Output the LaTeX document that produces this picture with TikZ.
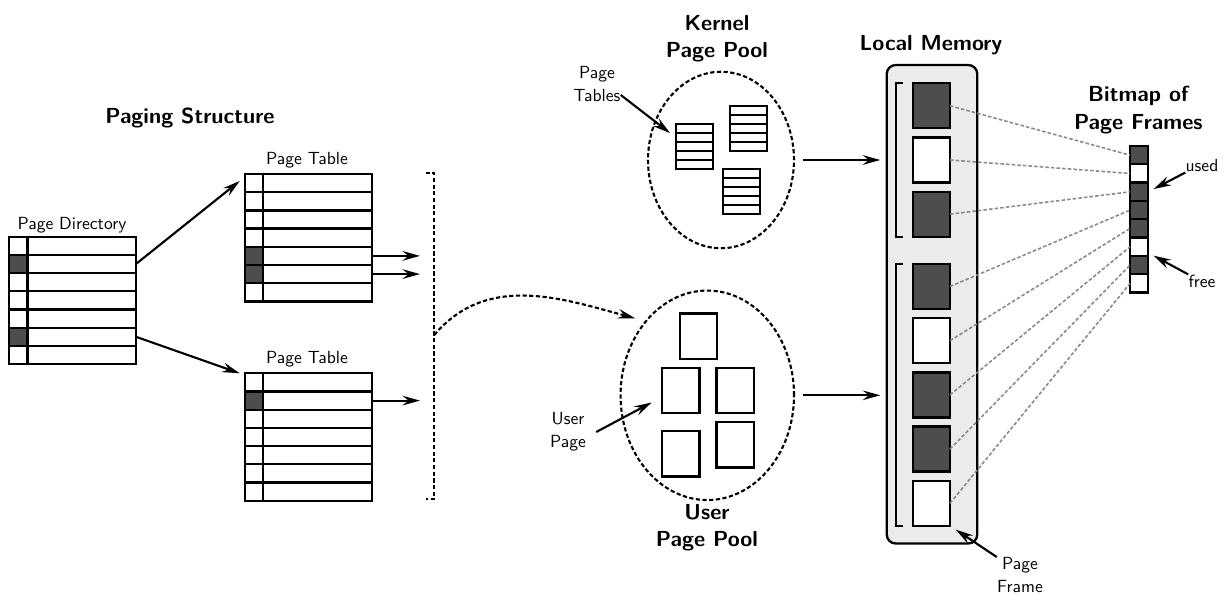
\documentclass[tikz,border=0pt]{standalone}
\usepackage{fontspec}
\usetikzlibrary{arrows.meta,shapes.geometric}

\definecolor{cd}{HTML}{4D4D4D}
\colorlet{cw}{white}
\definecolor{memgray}{HTML}{EBEBEB}
\definecolor{linkgray}{HTML}{8A8A8A}

\begin{document}
\begin{tikzpicture}[x=0.02cm,y=-0.02cm,>={Stealth[length=10pt,width=5.5pt,inset=3.5pt]},
    font=\sffamily,
    box/.style={draw,line width=1.3pt,inner sep=0pt,outer sep=0pt},
    row/.style={box,minimum width=2.54cm,minimum height=0.364cm,anchor=north west},
    bit/.style={box,fill=c#1,minimum width=0.37cm,minimum height=0.364cm,anchor=north west},
    krow/.style={box,line width=1.1pt,minimum width=0.734cm,minimum height=0.181cm,anchor=north west},
    upage/.style={box,minimum width=0.746cm,minimum height=0.912cm},
    frame/.style={box,fill=c#1,minimum width=0.746cm,minimum height=0.9cm},
    bm/.style={box,fill=c#1,minimum size=0.366cm},
    dashline/.style={line width=1.2pt,dash pattern=on 2.4pt off 1.4pt},
    pool/.style={ellipse,draw,dashline,inner sep=0pt},
    title/.style={font=\fontsize{12.4}{15.5}\selectfont\sffamily\bfseries,align=center,inner sep=0pt},
    lbl/.style={font=\fontsize{10}{13}\selectfont\sffamily,align=center,inner sep=0pt},
    arr/.style={->,line width=1.2pt},
    link/.style={draw=linkgray,line width=0.9pt,dash pattern=on 2pt off 1.2pt}]
    \useasboundingbox (0,0) rectangle (1228,594);

    % paging structure
    \node[title] (pslbl) at (190,118) {Paging Structure};
    \node[lbl] (pdlbl) at (72,225) {Page Directory};
    \foreach \c [count=\r from 0] in {w,d,w,w,w,d,w} {
        \node[row] (pd-\r) at (9,{236.7+18.2*\r}) {};
        \node[bit=\c] (pd-\r-b) at (pd-\r.north west) {};
    }
    \node[lbl] (pt1lbl) at (307,160) {Page Table};
    \foreach \c [count=\r from 0] in {w,w,w,w,d,d,w} {
        \node[row] (pt1-\r) at (244.7,{174+18.2*\r}) {};
        \node[bit=\c] (pt1-\r-b) at (pt1-\r.north west) {};
    }
    \node[lbl] (pt2lbl) at (307,359) {Page Table};
    \foreach \c [count=\r from 0] in {w,d,w,w,w,w,w} {
        \node[row] (pt2-\r) at (244.7,{373.3+18.2*\r}) {};
        \node[bit=\c] (pt2-\r-b) at (pt2-\r.north west) {};
    }
    \draw[arr] (pd-1.east) -- ([xshift=-0.1cm,yshift=-0.14cm]pt1-0.north west);
    \draw[arr] (pd-5.east) -- ([xshift=-0.1cm]pt2-0.north west);

    \coordinate (ptout) at (420,336);
    \foreach \r in {4,5}
        \draw[arr] (pt1-\r.east) -- (pt1-\r.east -| ptout);
    \draw[arr] (pt2-1.east) -- (pt2-1.east -| ptout);

    % dashed bracket
    \coordinate (brk-t) at (434.3,173);
    \coordinate (brk-b) at (434.3,499);
    \coordinate (brk) at (434.3,335);
    \draw[dashline] ([xshift=-0.17cm]brk-t) -- (brk-t) -- (brk-b) -- ([xshift=-0.17cm]brk-b);

    % kernel page pool
    \node[title] (kpoollbl) at (717,39) {Kernel\\Page Pool};
    \node[pool,minimum width=2.92cm,minimum height=3.53cm] (kpool) at (721,160) {};
    \foreach \t/\x/\y in {1/676/124,2/730/106,3/723.3/169}
        \foreach \r in {0,...,4}
            \node[krow] (kt\t-\r) at (\x,{\y+9.07*\r}) {};
    \node[lbl] (ptslbl) at (597,84) {Page\\Tables};
    \draw[arr] ([yshift=0.14cm]ptslbl.south east) -- ([xshift=-0.12cm]kt1-1.north west);

    % user page pool
    \node[pool,minimum width=3.47cm,minimum height=4.19cm] (upool) at (707.3,395.3) {};
    \node[title] (upoollbl) at (707,528) {User\\Page Pool};
    \node[upage] (up1) at (698.7,336.2) {};
    \node[upage] (up2) at (680.8,390.5) {};
    \node[upage] (up3) at (735,390.5) {};
    \node[upage] (up4) at (680.8,453.7) {};
    \node[upage] (up5) at (735,444.7) {};
    \node[lbl] (uplbl) at (568,432) {User\\Page};
    \draw[arr] ([xshift=0.2cm]uplbl.east) -- ([xshift=-0.21cm,yshift=-0.24cm]up2.west);

    \draw[arr,dashline,shorten >=0.2cm] (brk) to[out=50,in=165] (upool.130);

    % local memory
    \node[title] (memlbl) at (931,45) {Local Memory};
    \node[box,fill=memgray,rounded corners=5pt,minimum width=1.81cm,minimum height=9.57cm] (mem) at (932,304.25) {};
    \foreach \i/\c/\y in {1/d/105.8,2/w/160,3/d/214.2,4/d/286.5,5/w/340.7,6/d/394.9,7/d/449.1,8/w/503.3}
        \node[frame=\c] (fr\i) at (931.35,\y) {};
    \draw[line width=1.3pt] ([xshift=-0.19cm]fr1.north west) -- ([xshift=-0.334cm]fr1.north west)
        -- ([xshift=-0.334cm]fr3.south west) -- ([xshift=-0.19cm]fr3.south west);
    \draw[line width=1.3pt] ([xshift=-0.19cm]fr4.north west) -- ([xshift=-0.334cm]fr4.north west)
        -- ([xshift=-0.334cm]fr8.south west) -- ([xshift=-0.19cm]fr8.south west);
    \draw[arr,shorten <=0.15cm,shorten >=0.13cm] (kpool.east) -- (kpool.east -| mem.west);
    \draw[arr,shorten <=0.15cm,shorten >=0.13cm] (upool.east) -- (upool.east -| mem.west);

    % bitmap
    \node[title] (bmlbl) at (1138.3,110) {Bitmap of\\Page Frames};
    \foreach \c [count=\i] in {d,w,d,d,d,w,d,w}
        \node[bm=\c] (bm\i) at (1139.15,{146+18.33*(\i-0.5)}) {};
    \foreach \i in {1,...,8}
        \draw[link] (fr\i.east) -- (bm\i.west);

    \node[lbl] (usedlbl) at (1202,166) {used};
    \draw[arr,shorten >=0.12cm] (usedlbl.south west) -- (bm3.east);
    \node[lbl] (freelbl) at (1202,281) {free};
    \draw[arr,shorten >=0.12cm] (freelbl.north west) -- ([yshift=-0.12cm]bm6.east);
    \node[lbl] (pflbl) at (1020,575) {Page\\Frame};
    \draw[arr,shorten >=0.14cm] (pflbl.north west) -- (fr8.south east);
\end{tikzpicture}
\end{document}
